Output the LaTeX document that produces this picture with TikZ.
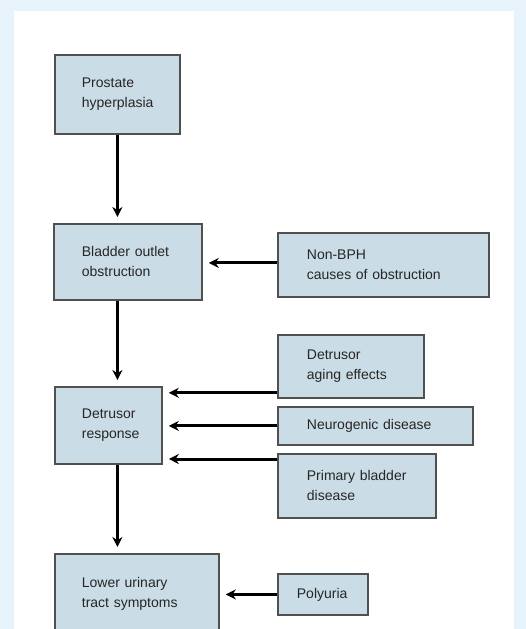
\documentclass[tikz,border=0pt]{standalone}
\usepackage{fontspec}
\setmainfont{Liberation Sans}
\usetikzlibrary{arrows.meta}
\definecolor{outerbg}{HTML}{E7F3FA}
\definecolor{boxfill}{HTML}{CADCE5}
\definecolor{boxline}{HTML}{505050}
\definecolor{txt}{HTML}{262626}
\tikzset{
  flowbox/.style={draw=boxline, line width=1.8pt, fill=boxfill, anchor=north west,
    inner ysep=0pt, align=left, text=txt, font=\fontsize{14}{20}\selectfont},
  flowarrow/.style={line width=3pt, -{Stealth[length=10pt,width=10pt]}, shorten >=6pt}
}
\begin{document}
\begin{tikzpicture}[x=1pt,y=-1pt]
\useasboundingbox (0,0) rectangle (526,629);
\clip (0,0) rectangle (526,629);
\fill[outerbg] (0,0) rectangle (526,629);
\fill[white] (14,11) rectangle (514,640);
% main chain
\node[flowbox, inner xsep=27pt, text width=71pt, minimum height=79pt] (P) at (54,54) {Prostate\\hyperplasia};
\node[flowbox, inner xsep=28pt, text width=92pt, minimum height=76pt] (B) at (53,223) {Bladder outlet\\obstruction};
\node[flowbox, inner xsep=27pt, text width=53pt, minimum height=77pt] (D) at (54,386) {Detrusor\\response};
\node[flowbox, inner xsep=27pt, text width=110pt, minimum height=79pt] (L) at (54,553) {Lower urinary\\tract symptoms};
% side boxes
\node[flowbox, inner xsep=29pt, text width=153pt, minimum height=64pt] (N) at (277,232) {Non-BPH\\causes of obstruction};
\node[flowbox, inner xsep=29pt, text width=88pt, minimum height=63pt] (A) at (277,334) {Detrusor\\aging effects};
\node[flowbox, inner xsep=29pt, text width=137pt, minimum height=38pt] (G) at (277,406) {Neurogenic disease};
\node[flowbox, inner xsep=29pt, text width=100pt, minimum height=64pt] (Q) at (277,453) {Primary bladder\\disease};
\node[flowbox, inner xsep=19pt, text width=52pt, minimum height=41pt] (Y) at (277,573) {Polyuria};
% vertical arrows
\draw[flowarrow] (P.south) -- (P.south |- B.north);
\draw[flowarrow] (B.south -| P.south) -- (D.north -| P.south);
\draw[flowarrow] (D.south -| P.south) -- (L.north -| P.south);
% horizontal arrows
\draw[flowarrow] ([yshift=2pt]N.west) -- ([yshift=2pt]N.west -| B.east);
\draw[flowarrow] ([yshift=6pt]A.south west) -- ([yshift=6pt]A.south west -| D.east);
\draw[flowarrow] (G.west) -- (G.west -| D.east);
\draw[flowarrow] ([yshift=-6pt]Q.north west) -- ([yshift=-6pt]Q.north west -| D.east);
\draw[flowarrow] (Y.west) -- (Y.west -| L.east);
\end{tikzpicture}
\end{document}
